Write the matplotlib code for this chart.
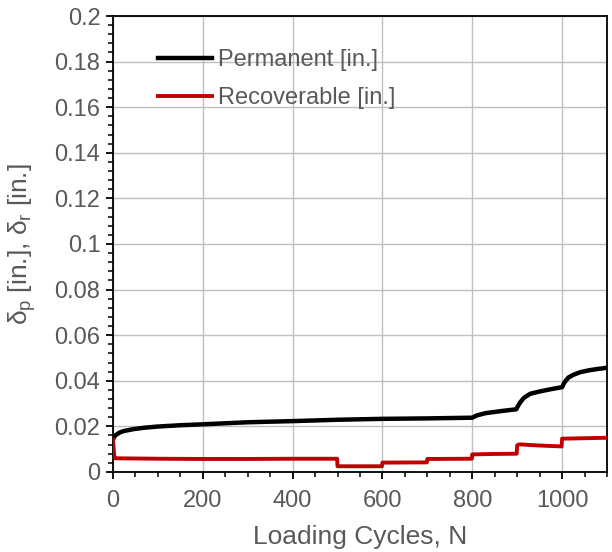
import numpy as np
import matplotlib
matplotlib.use("Agg")
import matplotlib.pyplot as plt
from matplotlib.ticker import MultipleLocator, FuncFormatter

# Fonts (Arial-like) and mathtext for the delta subscripts
plt.rcParams['font.family'] = ['Liberation Sans', 'DejaVu Sans']
plt.rcParams['mathtext.fontset'] = 'custom'
plt.rcParams['mathtext.rm'] = 'Liberation Sans'
plt.rcParams['mathtext.it'] = 'Liberation Sans'

text_color = '#595959'

# Permanent deformation [in.] vs loading cycles
perm_n = [0, 2, 5, 10, 16, 25, 46, 70, 98, 150, 200, 300, 400, 500, 600, 700,
          800, 810, 830, 860, 898, 902, 907, 915, 929, 950, 975, 1000, 1005,
          1014, 1025, 1041, 1060, 1080, 1100]
perm_val = [0.0142, 0.0152, 0.0160, 0.0167, 0.0174, 0.0180, 0.0188, 0.0194,
            0.0199, 0.0205, 0.0209, 0.0218, 0.0223, 0.0229, 0.0233, 0.0235,
            0.0238, 0.0248, 0.0258, 0.0266, 0.0275, 0.0290, 0.0306, 0.0325,
            0.0343, 0.0353, 0.0363, 0.0372, 0.0392, 0.0414, 0.0426, 0.0438,
            0.0446, 0.0452, 0.0457]

# Recoverable deformation [in.] vs loading cycles
rec_n = [0, 3, 5, 100, 200, 300, 400, 499, 500, 599, 600, 699, 700, 799, 800,
         850, 899, 900, 905, 950, 999, 1000, 1050, 1100]
rec_val = [0.0142, 0.0065, 0.0060, 0.0058, 0.0057, 0.0057, 0.0058, 0.0058,
           0.0025, 0.0025, 0.0041, 0.0042, 0.0057, 0.0058, 0.0077, 0.0079,
           0.0080, 0.0117, 0.0121, 0.0116, 0.0112, 0.0146, 0.0148, 0.0150]

fig, ax = plt.subplots(figsize=(6.12, 5.52), dpi=100)
fig.subplots_adjust(left=0.1846, right=0.9918, top=0.971, bottom=0.145)

ax.plot(perm_n, perm_val, color='black', lw=3.2, label='Permanent [in.]', zorder=3)
ax.plot(rec_n, rec_val, color='#C00000', lw=2.8, label='Recoverable [in.]', zorder=3)

ax.set_xlim(0, 1100)
ax.set_ylim(0, 0.2)
ax.xaxis.set_major_locator(MultipleLocator(200))
ax.xaxis.set_minor_locator(MultipleLocator(50))
ax.yaxis.set_major_locator(MultipleLocator(0.02))
ax.yaxis.set_minor_locator(MultipleLocator(0.004))
ax.yaxis.set_major_formatter(FuncFormatter(lambda v, p: '{:g}'.format(round(v, 3))))
ax.set_xticks([0, 200, 400, 600, 800, 1000])

ax.grid(True, which='major', color='#BFBFBF', lw=1.0)
ax.set_axisbelow(True)

for s in ax.spines.values():
    s.set_color('black')
    s.set_linewidth(1.3)

ax.tick_params(axis='both', which='major', direction='out', length=5, width=1.3,
               labelsize=17, labelcolor=text_color, color='black')
ax.tick_params(axis='both', which='minor', direction='out', length=3.5, width=1.1,
               color='black')
ax.tick_params(axis='x', which='major', pad=8)
ax.tick_params(axis='y', which='major', pad=4)

ax.set_xlabel('Loading Cycles, N', fontsize=19, color=text_color, labelpad=9)
ax.set_ylabel(r'$\delta_\mathrm{p}$ [in.], $\delta_\mathrm{r}$ [in.]', fontsize=19,
              color=text_color)
ax.yaxis.set_label_coords(-0.152, 0.5)

leg = ax.legend(loc='upper left', bbox_to_anchor=(0.091, 0.928), frameon=False,
                fontsize=17, handlelength=2.3, handletextpad=0.25,
                labelspacing=0.7, borderpad=0, borderaxespad=0)
for t in leg.get_texts():
    t.set_color(text_color)

fig.savefig('out.png', dpi=100)
